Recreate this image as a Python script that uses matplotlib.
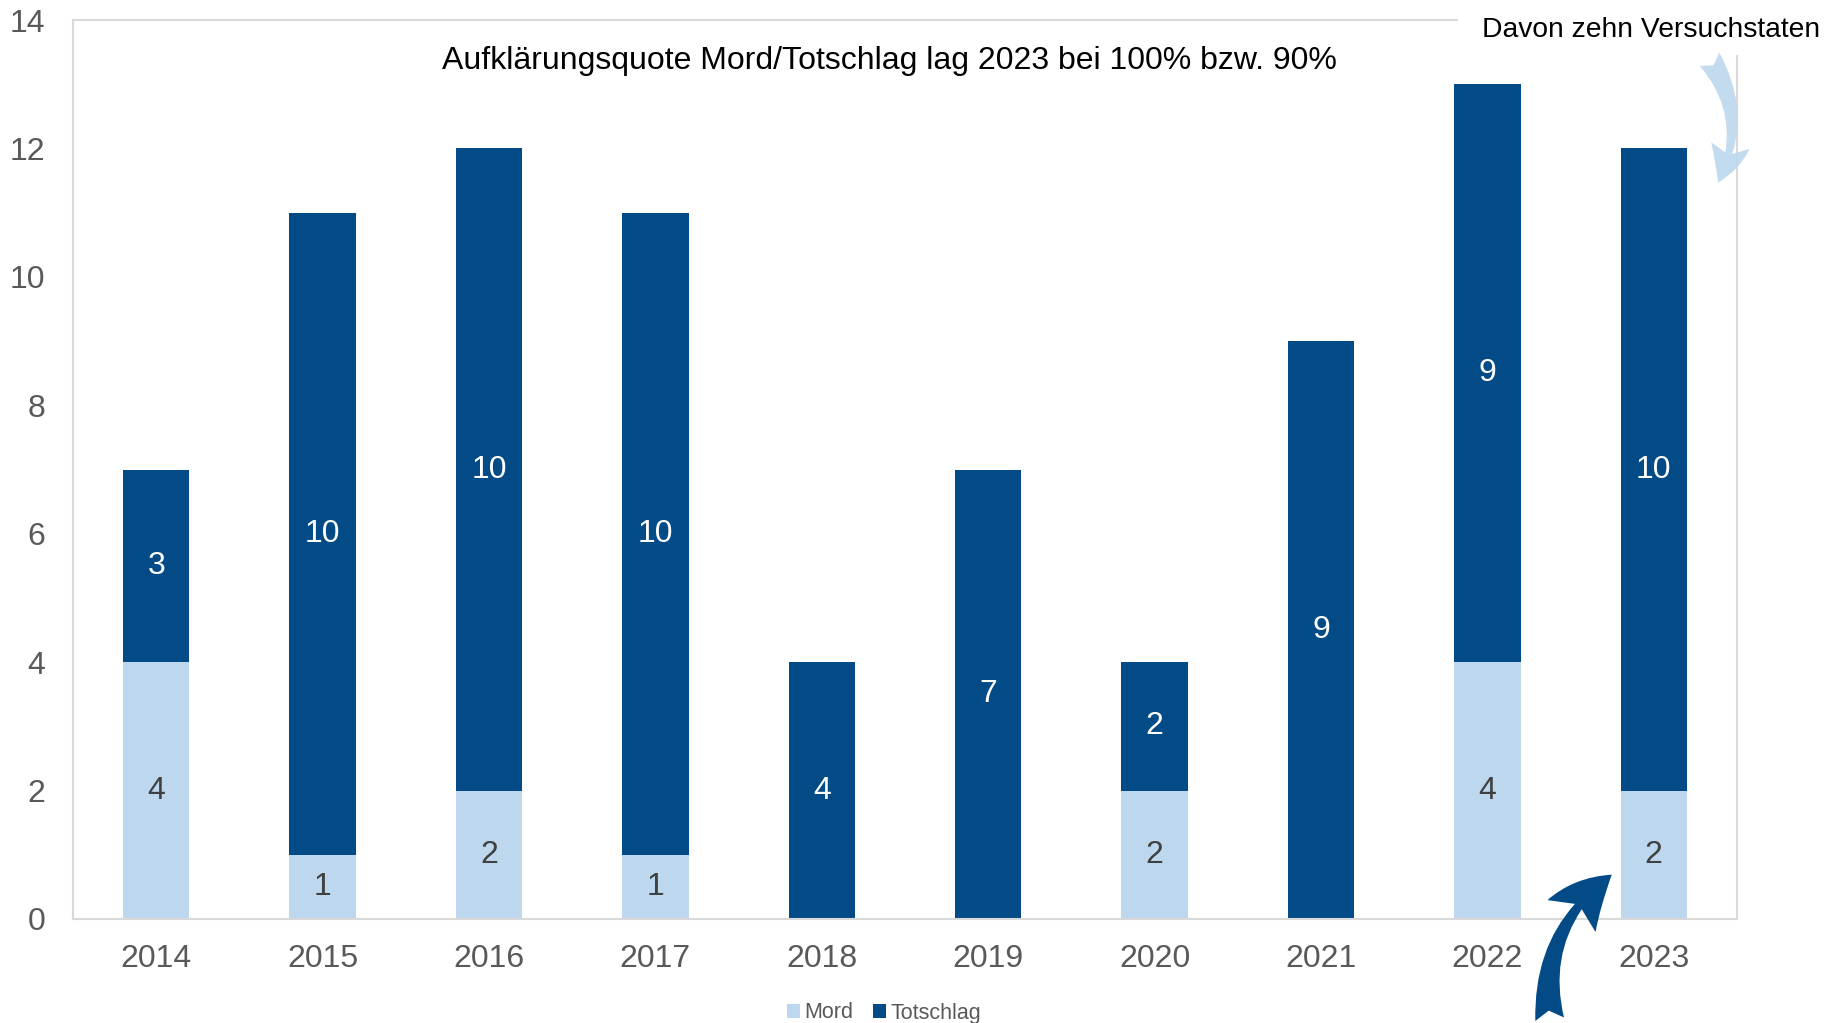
import numpy as np
import matplotlib.pyplot as plt
from matplotlib.patches import FancyArrowPatch
from matplotlib.lines import Line2D

plt.rcParams['font.family'] = ['Liberation Sans', 'DejaVu Sans']

years = ['2014', '2015', '2016', '2017', '2018', '2019', '2020', '2021', '2022', '2023']
mord = [4, 1, 2, 1, 0, 0, 2, 0, 4, 2]
totschlag = [3, 10, 10, 10, 4, 7, 2, 9, 9, 10]

light = '#BDD7EE'
dark = '#034B87'
grid_col = '#D9D9D9'
text_col = '#595959'

fig = plt.figure(figsize=(18.27, 10.23), dpi=100)
ax = fig.add_axes([73 / 1827, 1 - 919 / 1023, (1737 - 73) / 1827, (919 - 20) / 1023])

x = np.arange(len(years))
b1 = ax.bar(x, mord, width=0.4, color=light, label='Mord')
b2 = ax.bar(x, totschlag, width=0.4, bottom=mord, color=dark, label='Totschlag')

for i in range(len(years)):
    if mord[i] > 0:
        ax.text(x[i], mord[i] / 2, str(mord[i]), ha='center', va='center',
                fontsize=23, color='#404040')
    if totschlag[i] > 0:
        ax.text(x[i], mord[i] + totschlag[i] / 2, str(totschlag[i]), ha='center', va='center',
                fontsize=23, color='white')

ax.set_xlim(-0.5, 9.5)
ax.set_ylim(0, 14)
ax.set_yticks(range(0, 15, 2))
ax.set_xticks(x)
ax.set_xticklabels(years)
ax.tick_params(length=0, labelsize=23, labelcolor=text_col)
ax.tick_params(axis='y', pad=20)
ax.tick_params(axis='x', pad=18)

# frame: top and right borders are cut by the annotation
for s in ['left', 'bottom']:
    ax.spines[s].set_color(grid_col)
    ax.spines[s].set_linewidth(1.5)
ax.spines['top'].set_visible(False)
ax.spines['right'].set_visible(False)
ax.add_line(Line2D([0, (1457 - 73) / (1737 - 73)], [1, 1], transform=ax.transAxes,
                   color=grid_col, lw=1.5, clip_on=False))
ax.add_line(Line2D([1, 1], [0, (919 - 56) / (919 - 20)], transform=ax.transAxes,
                   color=grid_col, lw=1.5, clip_on=False))

fig.text(889 / 1827, 1 - 61 / 1023, 'Aufklärungsquote Mord/Totschlag lag 2023 bei 100% bzw. 90%',
         ha='center', va='center', fontsize=23, color='black')
fig.text(1651 / 1827, 1 - 30 / 1023, 'Davon zehn Versuchstaten',
         ha='center', va='center', fontsize=20.3, color='black')

# curved arrows
a1 = FancyArrowPatch((1708 / 1827, 1 - 57 / 1023), (1717 / 1827, 1 - 185 / 1023),
                     transform=fig.transFigure, connectionstyle='arc3,rad=-0.3',
                     arrowstyle='fancy,head_length=1.4,head_width=1.4,tail_width=0.85',
                     mutation_scale=20, color=light, alpha=0.9, lw=0)
fig.patches.append(a1)
a2 = FancyArrowPatch((1550 / 1827, 1 - 1022 / 1023), (1614 / 1827, 1 - 873 / 1023),
                     transform=fig.transFigure, connectionstyle='arc3,rad=-0.3',
                     arrowstyle='fancy,head_length=1.6,head_width=1.6,tail_width=0.8',
                     mutation_scale=26, color=dark, lw=0)
fig.patches.append(a2)

fig.legend(handles=[b1, b2], labels=['Mord', 'Totschlag'], loc='center',
           bbox_to_anchor=(884 / 1827, 1 - 1013 / 1023), ncol=2, frameon=False,
           fontsize=15.5, labelcolor=text_col, handlelength=0.6, handleheight=0.6,
           handletextpad=0.2, columnspacing=0.9)

fig.savefig('out.png', dpi=100)
